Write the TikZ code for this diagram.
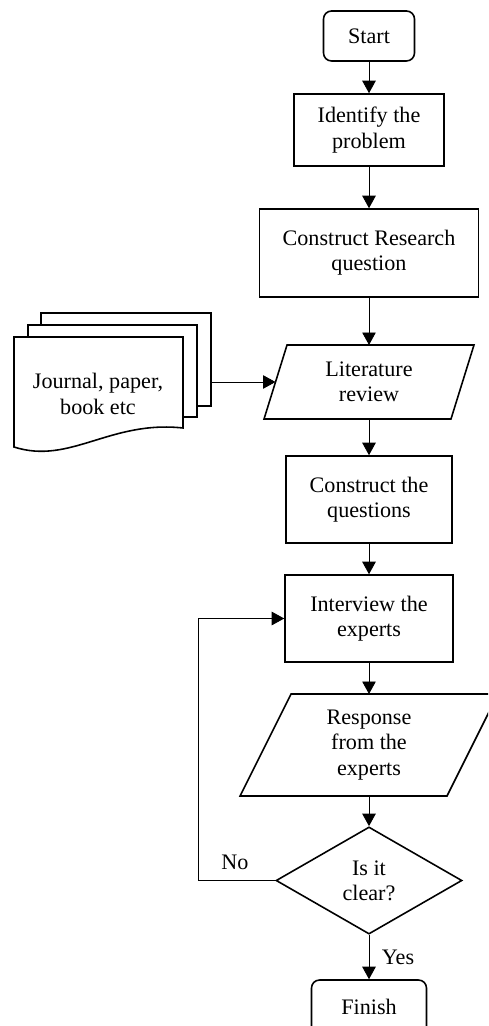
\documentclass[tikz,border=0pt]{standalone}
\usepackage{fontspec}
\setmainfont{Liberation Serif}
\usetikzlibrary{shapes.geometric,arrows.meta}
\begin{document}
\begin{tikzpicture}[x=0.02cm,y=-0.02cm,
        txt/.style={align=center,font=\fontsize{12.6}{14.4}\selectfont},
        box/.style={txt,draw,line width=0.9pt,inner sep=2pt},
        term/.style={box,rounded corners=0.16cm},
        io/.style={txt,inner sep=2pt,outer sep=0pt},
        frame/.style={line width=0.9pt},
        arr/.style={-{Triangle[length=0.25cm,width=0.27cm]},line width=0.5pt}]
        \useasboundingbox (0,0) rectangle (488,1026);
        \clip (0,0) rectangle (488,1026);

        \draw[frame,fill=white] (41,313) rectangle (211,406);
        \draw[frame,fill=white] (28,325) rectangle (197,417);
        \draw[frame,fill=white] (14,337) -- (183,337) -- (183,428)
            .. controls (110,420) and (70,465) .. (14,447) -- cycle;
        \node[txt] (docs) at (98,394) {Journal, paper,\\book etc};
        \coordinate (docout) at (211,382);

        \node[term,minimum width=1.82cm,minimum height=1cm] (start) at (369,36) {Start};
        \node[box,minimum width=3cm,minimum height=1.44cm] (identify) at (369,130) {Identify the\\problem};
        \node[box,minimum width=4.38cm,minimum height=1.76cm] (question) at (369,253) {Construct Research\\question};
        \node[io,minimum width=3.74cm,minimum height=1.48cm] (litrev) at (369,382) {Literature\\review};
        \draw[frame] ([xshift=0.23cm]litrev.north west) -- ([xshift=0.23cm]litrev.north east)
            -- ([xshift=-0.23cm]litrev.south east) -- ([xshift=-0.23cm]litrev.south west) -- cycle;
        \node[box,minimum width=3.32cm,minimum height=1.74cm] (construct) at (369,499.5) {Construct the\\questions};
        \node[box,minimum width=3.36cm,minimum height=1.74cm] (interview) at (369,618.5) {Interview the\\experts};
        \node[io,minimum width=4.14cm,minimum height=2.04cm] (response) at (369,745) {Response\\from the\\experts};
        \draw[frame] ([xshift=0.51cm]response.north west) -- ([xshift=0.51cm]response.north east)
            -- ([xshift=-0.51cm]response.south east) -- ([xshift=-0.51cm]response.south west) -- cycle;
        \node[box,diamond,minimum width=3.72cm,minimum height=2.02cm] (clear) at (369,880.5) {Is it\\clear?};
        \node[term,minimum width=2.3cm,minimum height=1.08cm] (finish) at (369,1007) {Finish};

        \node[txt] (no) at (235,862) {No};
        \node[txt] (yes) at (398,957) {Yes};
        \coordinate (loop) at (198,880.5);

        \draw[arr] (start) -- (identify);
        \draw[arr] (identify) -- (question);
        \draw[arr] (question) -- (litrev);
        \draw[arr] (docout) -- (litrev);
        \draw[arr] (litrev) -- (construct);
        \draw[arr] (construct) -- (interview);
        \draw[arr] (interview) -- (response);
        \draw[arr] (response) -- (clear);
        \draw[arr] (clear) -- (finish);
        \draw[arr] (clear.west) -- (loop) |- (interview);
\end{tikzpicture}
\end{document}
